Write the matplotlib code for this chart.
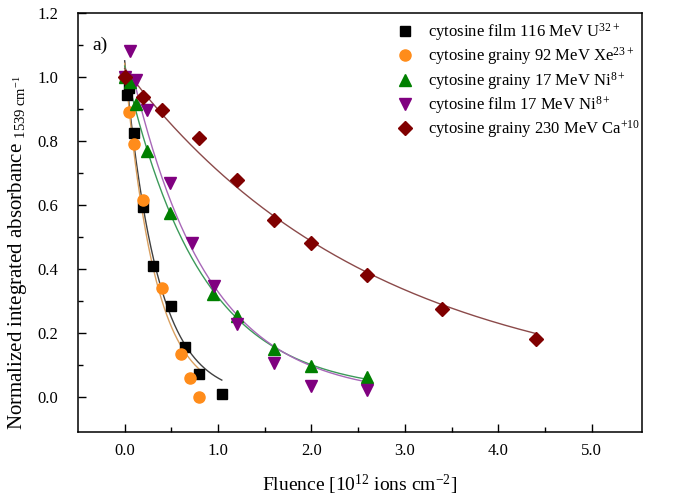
import matplotlib
matplotlib.use('Agg')
import matplotlib.pyplot as plt
from matplotlib.ticker import FixedLocator
import numpy as np

# Data
u_x = [0.0, 0.03, 0.05, 0.1, 0.2, 0.3, 0.5, 0.645, 0.8, 1.04]
u_y = [1.0, 0.945, 0.965, 0.825, 0.595, 0.41, 0.285, 0.155, 0.072, 0.01]

xe_x = [0.0, 0.05, 0.1, 0.2, 0.4, 0.6, 0.7, 0.8]
xe_y = [1.0, 0.89, 0.79, 0.615, 0.34, 0.135, 0.06, 0.0]

ni_grainy_x = [0.0, 0.06, 0.12, 0.24, 0.48, 0.95, 1.2, 1.6, 2.0, 2.6]
ni_grainy_y = [1.0, 0.985, 0.915, 0.77, 0.575, 0.32, 0.253, 0.15, 0.097, 0.062]

ni_film_x = [0.0, 0.06, 0.12, 0.24, 0.48, 0.72, 0.96, 1.2, 1.6, 2.0, 2.6]
ni_film_y = [1.0, 1.08, 0.99, 0.897, 0.668, 0.48, 0.345, 0.228, 0.105, 0.034, 0.02]

ca_x = [0.0, 0.2, 0.4, 0.8, 1.2, 1.6, 2.0, 2.6, 3.4, 4.4]
ca_y = [1.0, 0.936, 0.897, 0.808, 0.678, 0.553, 0.48, 0.381, 0.275, 0.181]

labels = [r'cytosine film 116 MeV U$^{\mathregular{32+}}$',
          r'cytosine grainy 92 MeV Xe$^{\mathregular{23+}}$',
          r'cytosine grainy 17 MeV Ni$^{\mathregular{8+}}$',
          r'cytosine film 17 MeV Ni$^{\mathregular{8+}}$',
          r'cytosine grainy 230 MeV Ca$^{\mathregular{+10}}$']


def exp_fit(x, y):
    """Least-squares fit of y = y0 + A*exp(-k*x) with y0 >= 0, scanning k."""
    x, y = np.asarray(x), np.asarray(y)
    best = None
    for k in np.linspace(0.05, 12, 2400):
        e = np.exp(-k * x)
        M = np.column_stack([np.ones_like(x), e])
        coef = np.linalg.lstsq(M, y, rcond=None)[0]
        if coef[0] < 0:
            coef = np.array([0.0, np.dot(e, y) / np.dot(e, e)])
        err = np.sum((M @ coef - y) ** 2)
        if best is None or err < best[0]:
            best = (err, k, coef)
    return best[1], best[2]


plt.rcParams['font.family'] = ['Liberation Serif', 'DejaVu Serif']
plt.rcParams['mathtext.fontset'] = 'custom'
plt.rcParams['mathtext.rm'] = 'Liberation Serif'
plt.rcParams['mathtext.it'] = 'Liberation Serif:italic'

fig = plt.figure(figsize=(6.77, 4.96), dpi=100)
ax = fig.add_axes([0.1152, 0.129, 0.8331, 0.8448])

series = [
    (u_x, u_y, 's', '#000000', '#404040', 7, 0.0),
    (xe_x, xe_y, 'o', '#ff8c1a', '#d9a060', 8, 0.0),
    (ni_grainy_x, ni_grainy_y, '^', '#008000', '#3c9a5a', 9, 0.0),
    (ni_film_x, ni_film_y, 'v', '#800080', '#a868b8', 9, 0.1),
    (ca_x, ca_y, 'D', '#800000', '#8b4a4a', 7.5, 0.0),
]

for (x, y, m, c, lc, ms, x0), lab in zip(series, labels):
    k, (y0, A) = exp_fit(x, y)
    xs = np.linspace(x0, max(x), 200)
    ax.plot(xs, y0 + A * np.exp(-k * xs), color=lc, lw=1.0, zorder=2)
    ax.plot(x, y, ls='none', marker=m, color=c, ms=ms, label=lab, zorder=3)

ax.set_xlim(-0.5, 5.54)
ax.set_ylim(-0.11, 1.2)
ax.set_xticks([0, 1, 2, 3, 4, 5])
ax.set_xticklabels(['0.0', '1.0', '2.0', '3.0', '4.0', '5.0'])
ax.xaxis.set_minor_locator(FixedLocator([0.5, 1.5, 2.5, 3.5, 4.5]))
ax.set_yticks([0.0, 0.2, 0.4, 0.6, 0.8, 1.0, 1.2])
ax.set_yticklabels(['0.0', '0.2', '0.4', '0.6', '0.8', '1.0', '1.2'])
ax.yaxis.set_minor_locator(FixedLocator([0.1, 0.3, 0.5, 0.7, 0.9, 1.1]))
ax.tick_params(which='both', direction='in', labelsize=12, top=False, right=False)
ax.tick_params(which='major', length=6, width=1)
ax.tick_params(which='minor', length=3.5, width=1)
ax.tick_params(axis='x', pad=8)
ax.tick_params(axis='y', pad=14)
for s in ax.spines.values():
    s.set_linewidth(1.1)

ax.set_xlabel(r'Fluence [10$^{\mathregular{12}}$ ions cm$^{\mathregular{-2}}$]', fontsize=14, labelpad=10)
ax.set_ylabel(r'Normalized integrated absorbance $_{\mathregular{1539\ cm^{-1}}}$', fontsize=15)
ax.yaxis.set_label_coords(-0.086, 0.427)

ax.text(0.025, 0.923, 'a)', transform=ax.transAxes, fontsize=14, va='center')

ax.legend(loc='upper left', bbox_to_anchor=(0.547, 1.0), frameon=False, fontsize=12,
          handletextpad=0.8, labelspacing=0.14, handlelength=1.2, borderaxespad=0.1)

plt.savefig('out.png', dpi=100)
